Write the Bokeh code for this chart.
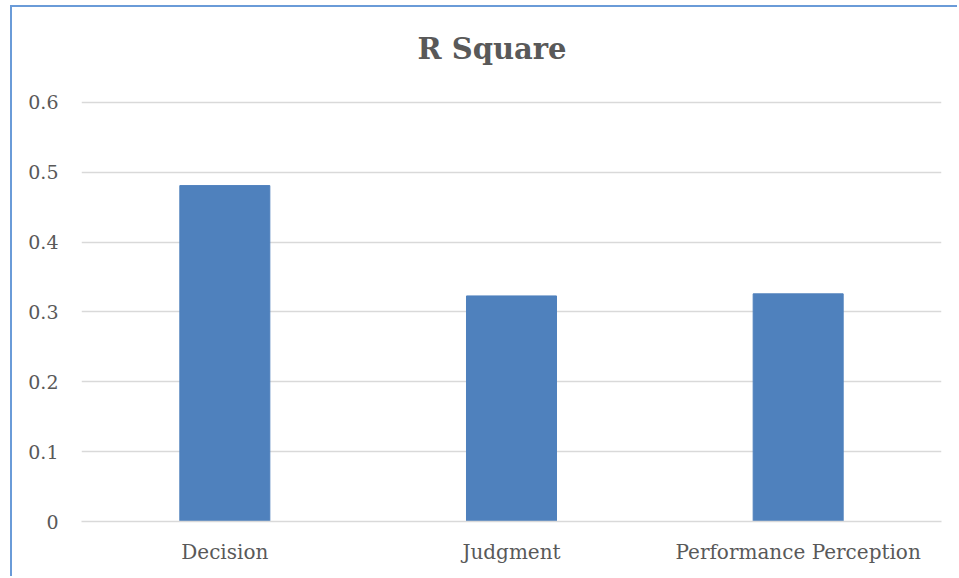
from bokeh.plotting import figure
from bokeh.models import FixedTicker, Label
from bokeh.embed import file_html
from bokeh.resources import INLINE

categories = ["Decision", "Judgment", "Performance Perception"]
r_square = [0.481, 0.323, 0.326]
y_ticks = [0, 0.1, 0.2, 0.3, 0.4, 0.5, 0.6]
y_tick_labels = ["0", "0.1", "0.2", "0.3", "0.4", "0.5", "0.6"]
title_text = "R Square"

TEXT = "#595959"
FONT = "DejaVu Serif"

p = figure(x_range=categories, y_range=(0, 0.736), width=947, height=571,
           output_backend="svg", toolbar_location=None,
           min_border_left=69, min_border_right=18, min_border_top=0, min_border_bottom=57)
p.title = None
p.add_layout(Label(x=336, y=473, x_units="screen", y_units="screen", text=title_text,
                   text_font=FONT, text_font_size="29px", text_font_style="bold",
                   text_color=TEXT, text_baseline="alphabetic", text_align="left"))
p.x_range.range_padding = 0
p.vbar(x=categories, top=r_square, width=0.314, color="#4f81bd")

p.outline_line_color = None
p.xgrid.grid_line_color = None
p.ygrid.grid_line_color = "#d9d9d9"
p.ygrid.grid_line_width = 1.3
p.yaxis.ticker = FixedTicker(ticks=y_ticks)
p.yaxis.major_label_overrides = {v: s for v, s in zip(y_ticks, y_tick_labels)}
for ax in (p.xaxis, p.yaxis):
    ax.axis_line_color = None
    ax.major_tick_line_color = None
    ax.minor_tick_line_color = None
    ax.major_label_text_font = FONT
    ax.major_label_text_color = TEXT
p.yaxis.major_label_text_font_size = "19px"
p.xaxis.major_label_text_font_size = "20px"
p.xaxis.axis_line_color = "#d9d9d9"
p.xaxis.axis_line_width = 1.3
p.yaxis.major_label_standoff = 17
p.xaxis.major_label_standoff = 12
p.styles = {"border-left": "2px solid #6a9bd8", "border-top": "2px solid #6a9bd8",
            "margin-left": "10px", "margin-top": "5px"}

open("out.html", "w").write(file_html(p, INLINE))
